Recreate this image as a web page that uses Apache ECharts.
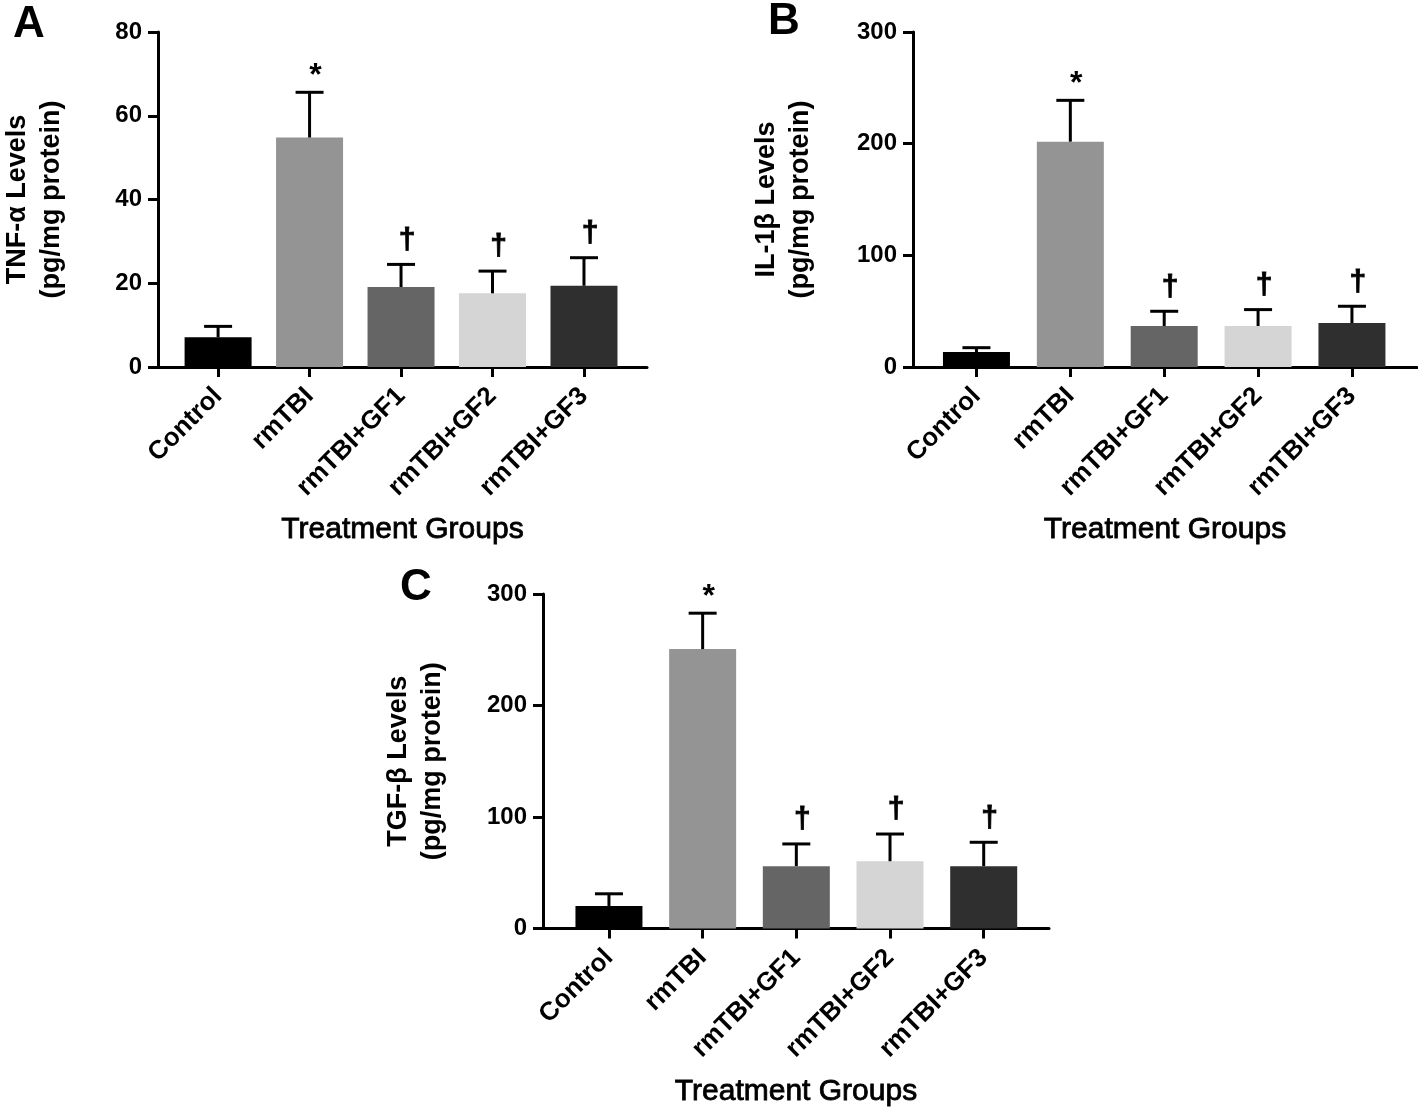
<!DOCTYPE html>
<html>
<head>
<meta charset="utf-8">
<script src="https://cdn.jsdelivr.net/npm/echarts@6/dist/echarts.min.js"></script>
<style>
html,body{margin:0;padding:0;background:#fff;}
#chart{width:1418px;height:1108px;}
</style>
</head>
<body>
<div id="chart"></div>
<script>
// ---------- data ----------
const categories = ['Control', 'rmTBI', 'rmTBI+GF1', 'rmTBI+GF2', 'rmTBI+GF3'];
const sigMarks = ['', '*', '\u2020', '\u2020', '\u2020'];

const tnfMean  = [7.1, 54.8, 19.1, 17.6, 19.4];
const tnfUpper = [9.7, 65.6, 24.5, 22.9, 26.1];
const tnfTicks = [0, 20, 40, 60, 80];

const il1bMean  = [13.4, 201.8, 36.7, 36.7, 39.4];
const il1bUpper = [17.3, 238.8, 49.9, 51.4, 54.4];
const il1bTicks = [0, 100, 200, 300];

const tgfbMean  = [20.3, 250.6, 56.0, 60.4, 56.0];
const tgfbUpper = [31.2, 282.8, 75.9, 84.8, 77.4];
const tgfbTicks = [0, 100, 200, 300];

const panelLetters = ['A', 'B', 'C'];
const yTitles = ['TNF-\u03b1 Levels\n(pg/mg protein)', 'IL-1\u03b2 Levels\n(pg/mg protein)', 'TGF-\u03b2 Levels\n(pg/mg protein)'];
const xTitle = 'Treatment Groups';

// ---------- style ----------
const barColors = ['#000000', '#949494', '#656565', '#d5d5d5', '#2f2f2f'];
const FONT = "'Liberation Sans', Arial, Helvetica, sans-serif";

const panels = [
  { mean: tnfMean, upper: tnfUpper, ticks: tnfTicks,
    grid: {left: 145, top: 32, width: 502, height: 335}, xmin: -0.657, xmax: 4.689, nameGap: 89 },
  { mean: il1bMean, upper: il1bUpper, ticks: il1bTicks,
    grid: {left: 913, top: 32, width: 504, height: 335}, xmin: -0.676, xmax: 4.693, nameGap: 95 },
  { mean: tgfbMean, upper: tgfbUpper, ticks: tgfbTicks,
    grid: {left: 543, top: 594, width: 506, height: 336}, xmin: -0.704, xmax: 4.697, nameGap: 93 }
];

const grids = [], xAxes = [], yAxes = [], series = [];
panels.forEach((p, k) => {
  grids.push(Object.assign({containLabel: false}, p.grid));
  xAxes.push({
    type: 'value', gridIndex: k, min: p.xmin, max: p.xmax,
    splitLine: {show: false},
    axisLine: {show: true, onZero: false, lineStyle: {color: '#000', width: 3}},
    axisTick: {show: true, length: 10, lineStyle: {color: '#000', width: 3},
               customValues: categories.map((c, i) => i)},
    axisLabel: {show: true, rotate: 45, margin: 25, color: '#000',
                fontFamily: FONT, fontWeight: 'bold', fontSize: 26,
                customValues: categories.map((c, i) => i),
                formatter: v => categories[Math.round(v)] || ''},
    name: xTitle, nameLocation: 'middle', nameGap: 148,
    nameTextStyle: {color: '#000', fontFamily: FONT, fontSize: 30, fontWeight: 'normal',
                    textBorderColor: '#000', textBorderWidth: 0.8}
  });
  const t = p.ticks;
  yAxes.push({
    type: 'value', gridIndex: k, min: t[0], max: t[t.length - 1], interval: t[1] - t[0],
    splitLine: {show: false},
    axisLine: {show: true, onZero: false, lineStyle: {color: '#000', width: 3}},
    axisTick: {show: true, length: 10, lineStyle: {color: '#000', width: 3}},
    axisLabel: {margin: 16, color: '#000', fontFamily: FONT, fontWeight: 'bold', fontSize: 24},
    name: yTitles[k], nameLocation: 'middle', nameGap: p.nameGap,
    nameTextStyle: {color: '#000', fontFamily: FONT, fontSize: 27, fontWeight: 'bold', lineHeight: 34, align: 'center'}
  });
  series.push({
    type: 'bar', xAxisIndex: k, yAxisIndex: k, barWidth: 67,
    data: p.mean.map((v, i) => ({value: [i, v], itemStyle: {color: barColors[i]}})),
    silent: true, animation: false
  });
  series.push({
    type: 'custom', xAxisIndex: k, yAxisIndex: k, clip: false, z: 5, animation: false,
    encode: {x: 0, y: 1},
    data: p.mean.map((v, i) => [i, v, p.upper[i]]),
    renderItem: (params, api) => {
      const x = api.value(0), m = api.value(1), u = api.value(2);
      const pm = api.coord([x, m]);
      const pu = api.coord([x, u]);
      const mark = sigMarks[params.dataIndex];
      const children = [
        {type: 'line', shape: {x1: pm[0], y1: pm[1], x2: pu[0], y2: pu[1]}, style: {stroke: '#000', lineWidth: 3}},
        {type: 'line', shape: {x1: pu[0] - 14, y1: pu[1], x2: pu[0] + 14, y2: pu[1]}, style: {stroke: '#000', lineWidth: 3}}
      ];
      if (mark) {
        const isStar = mark === '*';
        children.push({
          type: 'text', x: pu[0] + 6, y: pu[1] - 24 + (isStar ? 8 : 0),
          style: {text: mark, fill: '#000', align: 'center', verticalAlign: 'middle',
                  font: 'bold ' + (isStar ? 32 : 30) + 'px ' + FONT,
                  stroke: isStar ? null : '#000', lineWidth: isStar ? 0 : 0.8}
        });
      }
      return {type: 'group', children};
    }
  });
});

const letterPos = [[13, 25], [768, 22], [400, 588]];
const graphics = panelLetters.map((L, i) => ({
  type: 'text', left: letterPos[i][0], top: letterPos[i][1] - 22,
  style: {text: L, fill: '#000', font: 'bold 44px ' + FONT}
}));

const chart = echarts.init(document.getElementById('chart'), null, {renderer: 'canvas'});
chart.setOption({
  backgroundColor: '#fff',
  animation: false,
  grid: grids, xAxis: xAxes, yAxis: yAxes, series,
  graphic: graphics
});
</script>
</body>
</html>
